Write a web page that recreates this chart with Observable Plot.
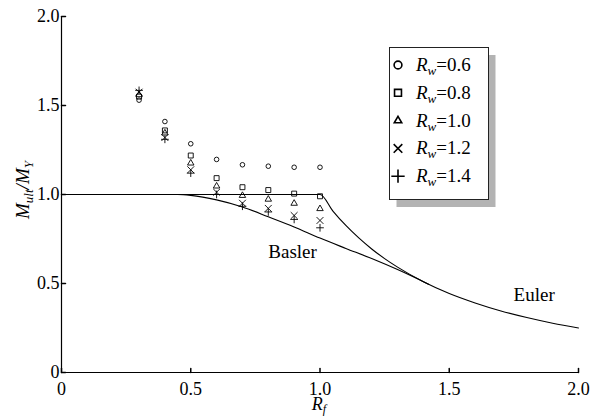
<!DOCTYPE html>
<html><head><meta charset="utf-8">
<script src="https://cdn.jsdelivr.net/npm/d3@7"></script>
<script src="https://cdn.jsdelivr.net/npm/@observablehq/plot@0.6"></script>
<style>
body{margin:0;background:#fff;}
#wrap{position:relative;width:605px;height:417px;font-family:"Liberation Serif","Times New Roman",serif;}
#wrap svg text{font-family:"Liberation Serif","Times New Roman",serif;}
#legend{position:absolute;left:389px;top:47px;}
</style></head><body><div id="wrap"></div>
<script>
// Test points: Rf and Mult/My for each Rw
const rf = [0.3, 0.4, 0.5, 0.6, 0.7, 0.8, 0.9, 1.0];
const rw06 = [1.53, 1.41, 1.285, 1.197, 1.167, 1.159, 1.153, 1.153];
const rw08 = [1.55, 1.36, 1.219, 1.092, 1.041, 1.025, 1.005, 0.99];
const rw10 = [1.56, 1.345, 1.176, 1.047, 0.994, 0.973, 0.95, 0.92];
const rw12 = [1.575, 1.32, 1.139, 1.013, 0.951, 0.922, 0.882, 0.854];
const rw14 = [1.585, 1.31, 1.12, 1.0, 0.934, 0.902, 0.86, 0.813];
const rwLabels = ["0.6", "0.8", "1.0", "1.2", "1.4"];
const rwSymbols = ["circle", "square", "triangle", "times", "plus"];

// Curves
const eulerRf = [0, 0.5, 1.0, 1.05, 1.1, 1.15, 1.2, 1.25, 1.3, 1.4, 1.5, 1.6, 1.7, 1.8, 1.9, 2.0];
const eulerM  = [1, 1, 1, 0.907, 0.826, 0.756, 0.694, 0.64, 0.592, 0.51, 0.444, 0.391, 0.346, 0.309, 0.277, 0.25];
const baslerRf = [0, 0.45, 0.5, 0.6, 0.7, 0.8, 0.9, 1.0, 1.1, 1.2, 1.3, 1.42];
const baslerM  = [1, 1, 0.995, 0.97, 0.93, 0.875, 0.818, 0.755, 0.697, 0.64, 0.578, 0.496];

// Axis ticks
const xTicks = [0, 0.5, 1.0, 1.5, 2.0];
const yTicks = [0, 0.5, 1.0, 1.5, 2.0];
const fmt = d => d === 0 ? "0" : d.toFixed(1);

const FONT = '"Liberation Serif", "Times New Roman", serif';

const series = [rw06, rw08, rw10, rw12, rw14];
const pts = [];
series.forEach((vals, i) => vals.forEach((v, j) => pts.push({rf: rf[j], m: v, s: rwSymbols[i]})));
const euler = eulerRf.map((x, i) => ({x, y: eulerM[i]}));
const basler = baslerRf.map((x, i) => ({x, y: baslerM[i]}));

const symR = {circle: 2.3, square: 2.8, triangle: 2.4, times: 3.2, plus: 2.6};
const tickShape = {draw(ctx, l) { ctx.moveTo(0, 0); ctx.lineTo(0, -l); }};

const chart = Plot.plot({
  width: 605, height: 417,
  marginLeft: 61, marginRight: 27, marginTop: 16, marginBottom: 45,
  style: {fontFamily: FONT, fontSize: "18px", background: "white", color: "black"},
  x: {domain: [0, 2], label: null},
  y: {domain: [0, 2], label: null},
  marks: [
    Plot.ruleX([0], {stroke: "black", strokeWidth: 1.2}),
    Plot.ruleY([0], {stroke: "black", strokeWidth: 1.2}),
    Plot.axisX({ticks: xTicks, tickSize: 0, tickPadding: 10, tickFormat: fmt, label: null, fill: "black", fontFamily: FONT}),
    Plot.axisY({ticks: yTicks, tickSize: 0, tickPadding: 2, tickFormat: fmt, label: null, fill: "black", fontFamily: FONT}),
    Plot.vector(xTicks, {x: d => d, y: 0, length: 4, rotate: 0, anchor: "start", shape: tickShape, stroke: "black"}),
    Plot.vector(yTicks, {x: 0, y: d => d, length: 4, rotate: 90, anchor: "start", shape: tickShape, stroke: "black"}),
    Plot.line(euler, {x: "x", y: "y", curve: "monotone-x", stroke: "black", strokeWidth: 1.1}),
    Plot.line(basler, {x: "x", y: "y", curve: "monotone-x", stroke: "black", strokeWidth: 1.1}),
    ...rwSymbols.map(s => Plot.dot(pts.filter(p => p.s === s), {x: "rf", y: "m", symbol: s, r: symR[s], stroke: "black", fill: "none", strokeWidth: 0.9})),
    Plot.text(["Basler"], {x: 0.8, y: 0.646, text: d => d, textAnchor: "start", lineAnchor: "bottom", fontSize: 19, fill: "black", fontFamily: FONT}),
    Plot.text(["Euler"], {x: 1.749, y: 0.399, text: d => d, textAnchor: "start", lineAnchor: "bottom", fontSize: 19, fill: "black", fontFamily: FONT})
  ]
});

const svg = d3.select(chart);
// Y label
const yl = svg.append("text")
  .attr("transform", "translate(29,190) rotate(-90)")
  .attr("text-anchor", "middle")
  .attr("font-family", FONT)
  .attr("font-style", "italic")
  .attr("font-size", 19)
  .attr("fill", "black");
yl.append("tspan").text("M");
yl.append("tspan").attr("font-size", 13).attr("dy", 4).text("ult");
yl.append("tspan").attr("dy", -4).text("/M");
yl.append("tspan").attr("font-size", 13).attr("dy", 4).text("Y");
// X label
const xl = svg.append("text")
  .attr("x", 319).attr("y", 410)
  .attr("text-anchor", "middle")
  .attr("font-family", FONT)
  .attr("font-style", "italic")
  .attr("font-size", 18)
  .attr("fill", "black");
xl.append("tspan").text("R");
xl.append("tspan").attr("font-size", 12).attr("dy", 3).text("f");

const wrap = document.getElementById("wrap");
wrap.appendChild(chart);

// Legend
const lg = d3.create("svg").attr("id", "legend").attr("width", 112).attr("height", 164);
lg.append("rect").attr("x", 7.5).attr("y", 8).attr("width", 99).attr("height", 152).attr("fill", "#b3b3b3");
lg.append("rect").attr("x", 0.5).attr("y", 0.5).attr("width", 99).attr("height", 152).attr("fill", "white").attr("stroke", "#222");
const legSize = {circle: 48, square: 48, triangle: 40, times: 50, plus: 60};
rwLabels.forEach((lab, i) => {
  const cy = 18 + i * 27.8;
  const sym = {circle: d3.symbolCircle, square: d3.symbolSquare, triangle: d3.symbolTriangle2, times: d3.symbolTimes, plus: d3.symbolPlus}[rwSymbols[i]];
  lg.append("path").attr("d", d3.symbol(sym, legSize[rwSymbols[i]])()).attr("transform", `translate(9,${cy})`)
    .attr("fill", "none").attr("stroke", "black").attr("stroke-width", 1.6);
  const t = lg.append("text").attr("x", 27).attr("y", cy + 6).attr("font-size", 19)
    .attr("font-family", FONT).attr("fill", "black");
  t.append("tspan").attr("font-style", "italic").text("R");
  t.append("tspan").attr("font-style", "italic").attr("font-size", 13).attr("dy", 4).text("w");
  t.append("tspan").attr("dy", -4).text("=" + lab);
});
wrap.appendChild(lg.node());
</script>
</body></html>
